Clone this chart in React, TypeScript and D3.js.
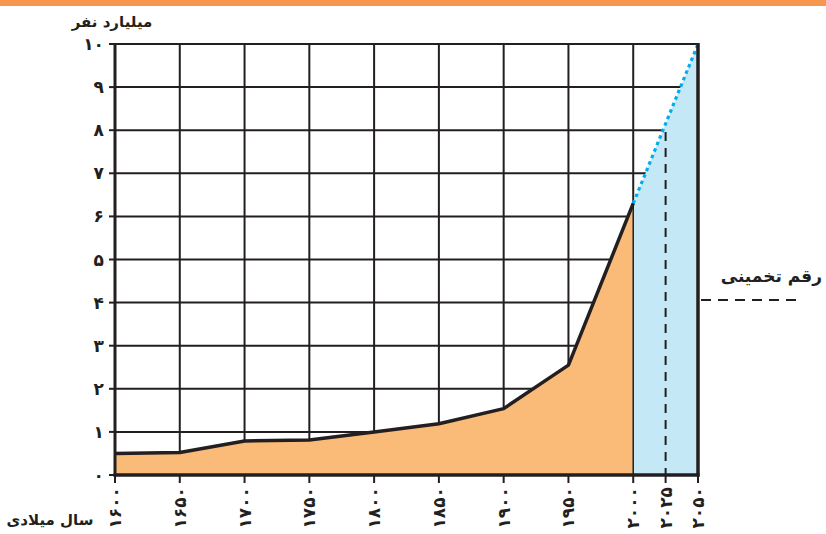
import React from "react";
import * as d3 from "d3";

const years = [1600, 1650, 1700, 1750, 1800, 1850, 1900, 1950, 2000];
const population = [0.5, 0.52, 0.79, 0.81, 1.0, 1.19, 1.54, 2.55, 6.3];
const projYears = [2000, 2025, 2050];
const projValues = [6.3, 8.1, 10];
const xTickYears = [1600, 1650, 1700, 1750, 1800, 1850, 1900, 1950, 2000, 2025, 2050];
const yTicks = [0, 1, 2, 3, 4, 5, 6, 7, 8, 9, 10];
const yTitle = "میلیارد نفر";
const xTitle = "سال میلادی";
const legendLabel = "رقم تخمینی";

const fa = (n: number) => String(n).replace(/\d/g, (d) => "۰۱۲۳۴۵۶۷۸۹"[+d]);

const W = 826, H = 534;
const FONT = "'DejaVu Sans', sans-serif";
const INK = "#231f20";

export default function App() {
  const x = d3.scaleLinear().domain([1600, 2050]).range([115, 698]);
  const y = d3.scaleLinear().domain([0, 10]).range([475, 44]);

  const histPts: [number, number][] = years.map((yr, i) => [yr, population[i]]);
  const area = d3.area<[number, number]>().x((d) => x(d[0])).y0(y(0)).y1((d) => y(d[1]));
  const line = d3.line<[number, number]>().x((d) => x(d[0])).y((d) => y(d[1]));
  const projPts: [number, number][] = [
    [projYears[0], projValues[0]],
    [projYears[2], projValues[2]],
  ];
  const blueArea = area(projPts) || "";

  return (
    <svg width={W} height={H} style={{ position: "absolute", left: 0, top: 0, background: "#fff" }}>
      <rect x={0} y={0} width={W} height={6} fill="#F7964F" />
      {/* grid */}
      {years.map((yr) => (
        <line key={"v" + yr} x1={x(yr)} x2={x(yr)} y1={y(0)} y2={y(10)} stroke={INK} strokeWidth={2} />
      ))}
      {yTicks.slice(1).map((v) => (
        <line key={"h" + v} x1={x(1600)} x2={x(2050)} y1={y(v)} y2={y(v)} stroke={INK} strokeWidth={2} />
      ))}
      {/* areas */}
      <path d={blueArea} fill="#C5E8F7" />
      <path d={area(histPts) || ""} fill="#F9BB77" />
      <line x1={x(2000)} x2={x(2000)} y1={y(0)} y2={y(population[8])} stroke={INK} strokeWidth={1.5} />
      {/* dashed 2025 */}
      <line x1={x(projYears[1])} x2={x(projYears[1])} y1={y(projValues[1]) + 6} y2={y(0)} stroke={INK} strokeWidth={2} strokeDasharray="9,7" />
      {/* dotted projection */}
      <path d={line(projPts) || ""} fill="none" stroke="#00AEEF" strokeWidth={3.2} strokeDasharray="3.5,3.5" />
      {/* historical line */}
      <path d={line(histPts) || ""} fill="none" stroke={INK} strokeWidth={3.5} strokeLinejoin="round" />
      {/* axes */}
      <line x1={x(1600)} x2={x(1600)} y1={y(10) - 1} y2={y(0) + 1.5} stroke={INK} strokeWidth={3} />
      <line x1={x(2050)} x2={x(2050)} y1={y(10) - 1} y2={y(0) + 1.5} stroke={INK} strokeWidth={3.5} />
      <line x1={x(1600) - 1.5} x2={x(2050) + 1.5} y1={y(0)} y2={y(0)} stroke={INK} strokeWidth={3.5} />
      {/* ticks */}
      {xTickYears.map((yr) => (
        <line key={"xt" + yr} x1={x(yr)} x2={x(yr)} y1={y(0)} y2={y(0) + 8} stroke={INK} strokeWidth={2} />
      ))}
      {yTicks.map((v) => (
        <line key={"yt" + v} x1={x(1600) - 6} x2={x(1600)} y1={y(v)} y2={y(v)} stroke={INK} strokeWidth={2} />
      ))}
      {/* labels */}
      {yTicks.map((v) => (
        <text key={"yl" + v} x={104} y={y(v) + 6} textAnchor="end" fontFamily={FONT} fontWeight="bold" fontSize={17} fill={INK}>
          {fa(v)}
        </text>
      ))}
      {xTickYears.map((yr) => (
        <text
          key={"xl" + yr}
          transform={`translate(${x(yr) + 6},${y(0) + 12}) rotate(-90)`}
          textAnchor="end"
          fontFamily={FONT}
          fontWeight="bold"
          fontSize={17}
          fill={INK}
        >
          {fa(yr)}
        </text>
      ))}
      <text x={112} y={27} textAnchor="middle" fontFamily={FONT} fontWeight="bold" fontSize={15} fill={INK} direction="rtl">
        {yTitle}
      </text>
      <text x={50} y={525} textAnchor="middle" fontFamily={FONT} fontWeight="bold" fontSize={15} fill={INK} direction="rtl">
        {xTitle}
      </text>
      <text x={822} y={282} textAnchor="end" fontFamily={FONT} fontWeight="bold" fontSize={17} fill={INK}>
        {legendLabel}
      </text>
      <line x1={701} x2={798} y1={300} y2={300} stroke={INK} strokeWidth={2} strokeDasharray="10,7" />
    </svg>
  );
}
